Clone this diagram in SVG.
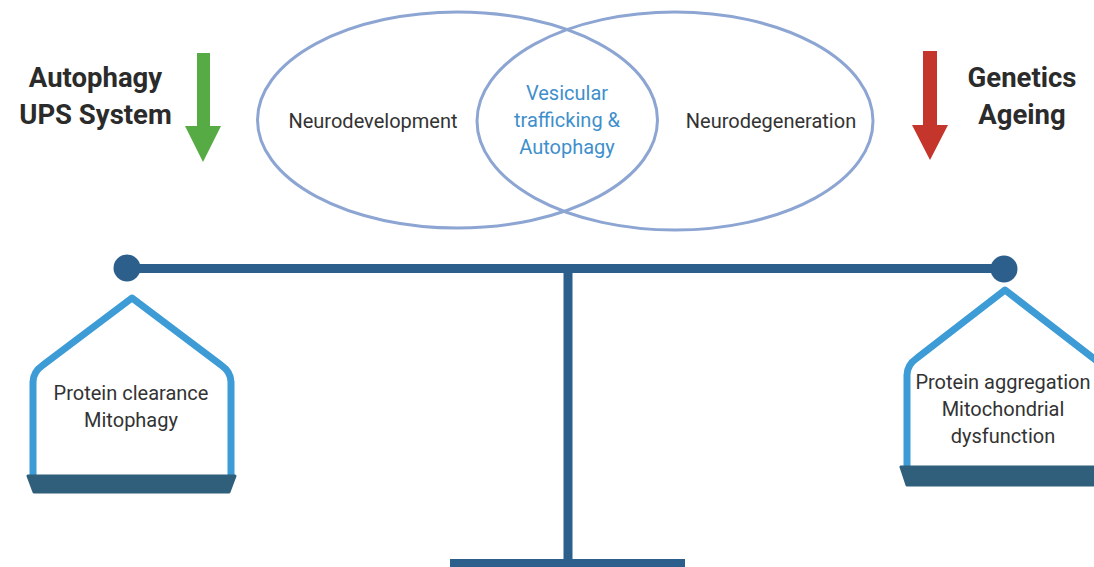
<svg xmlns="http://www.w3.org/2000/svg" width="1094" height="567" viewBox="0 0 1094 567">
<style>
.t{font-family:Roboto,"Liberation Sans",sans-serif;font-size:20px;fill:#333;text-anchor:middle}
.b{font-family:Roboto,"Liberation Sans",sans-serif;font-size:27.5px;font-weight:bold;fill:#2b2b2b;text-anchor:middle}
.blue{fill:#3f8fcc}
.ell{fill:none;stroke:#8ca5d2;stroke-width:3}
.pan{fill:none;stroke:#3d9bd6;stroke-width:7;stroke-linejoin:round}
.tray{fill:#2f5f7b;stroke:#2f5f7b;stroke-width:3;stroke-linejoin:round}
.beam{stroke:#2c5f8b;fill:none}
</style>
<rect width="1094" height="567" fill="#fff"/>
<g id="venn">
<ellipse class="ell" cx="457.5" cy="120" rx="200" ry="108"/>
<ellipse class="ell" cx="675" cy="121" rx="198" ry="109"/>
<text class="t" x="373" y="128">Neurodevelopment</text>
<text class="t blue" x="567" y="100">Vesicular</text>
<text class="t blue" x="567" y="127">trafficking &amp;</text>
<text class="t blue" x="567" y="154">Autophagy</text>
<text class="t" x="771" y="128">Neurodegeneration</text>
</g>
<g id="left-factors">
<text class="b" x="95.5" y="87">Autophagy</text>
<text class="b" x="95.5" y="124">UPS System</text>
<path d="M197,53 H210 V126 H221 L203,162 L185,126 H197 Z" fill="#56ab44"/>
</g>
<g id="right-factors">
<text class="b" x="1022" y="87">Genetics</text>
<text class="b" x="1022" y="124">Ageing</text>
<path d="M923,51 H937 V125 H948 L930,160 L912,125 H923 Z" fill="#c4352c"/>
</g>
<g id="scale">
<line class="beam" x1="127" y1="268.5" x2="1004" y2="268.5" stroke-width="9"/>
<line class="beam" x1="568" y1="268" x2="568" y2="562" stroke-width="9"/>
<rect x="450" y="559" width="235" height="8" fill="#2c5f8b"/>
<circle cx="127" cy="268" r="13.5" fill="#2c5f8b"/>
<circle cx="1004" cy="269" r="13.5" fill="#2c5f8b"/>
</g>
<g id="left-pan">
<path class="pan" d="M33,476 V382 Q33,372 43,365 L132,298 L221,365 Q231,372 231,382 V476"/>
<path class="tray" d="M28,476 H235 L229,492 H34 Z"/>
<text class="t" x="131" y="400">Protein clearance</text>
<text class="t" x="131" y="427">Mitophagy</text>
</g>
<g id="right-pan">
<path class="pan" d="M907,468 V375 Q907,365 917,358 L1005,290 L1093,358 Q1103,365 1103,375 V468"/>
<path class="tray" d="M901,467 H1110 L1104,485 H907 Z"/>
<text class="t" x="1003" y="389">Protein aggregation</text>
<text class="t" x="1003" y="416">Mitochondrial</text>
<text class="t" x="1003" y="443">dysfunction</text>
</g>
</svg>
